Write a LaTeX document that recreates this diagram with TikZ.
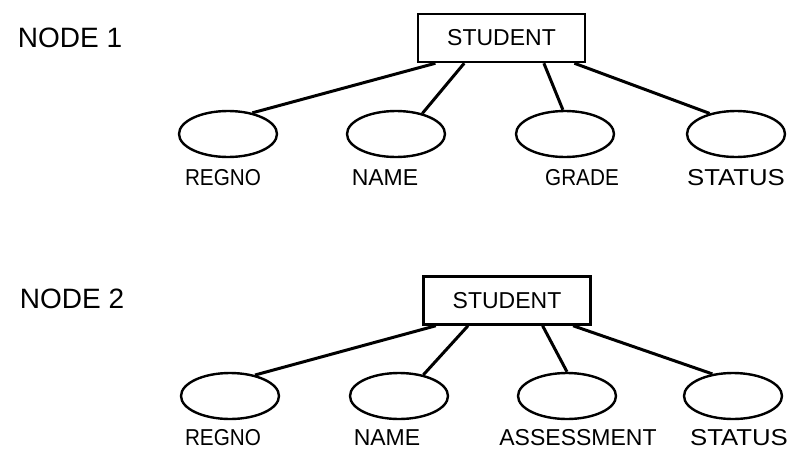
\documentclass[tikz,border=0pt]{standalone}
\usepackage{fontspec}
\setmainfont{Liberation Sans}
\usetikzlibrary{calc,shapes.geometric}

\tikzset{
  entity/.style={draw, line width=2.5pt, rectangle, minimum width=167pt, minimum height=48pt, inner sep=0pt,
                 font=\fontsize{23}{25}\selectfont},
  attr/.style={draw, line width=2.4pt, ellipse, minimum width=98pt, minimum height=46pt, inner sep=0pt},
  attrlabel/.style={font=\fontsize{23}{25}\selectfont, inner sep=0pt},
  title/.style={font=\fontsize{28}{30}\selectfont, inner sep=0pt},
  link/.style={line width=3pt}
}

\begin{document}
\begin{tikzpicture}[x=1pt, y=-1pt]
  \path[use as bounding box] (0,0) rectangle (790,450);

  % ---------- first record ----------
  \node[title] (t1) at (70,38) {NODE 1};
  \node[entity] (s1) at (501.5,38) {STUDENT};

  \node[attr] (a1) at (228,134) {};
  \node[attr] (a2) at (396,134) {};
  \node[attr] (a3) at (565,134) {};
  \node[attr] (a4) at (736,134) {};

  \node[attrlabel, xscale=0.9] (l1) at (223,178) {REGNO};
  \node[attrlabel] (l2) at (385,178) {NAME};
  \node[attrlabel, xscale=0.9] (l3) at (582,178) {GRADE};
  \node[attrlabel, xscale=1.12] (l4) at (736,178) {STATUS};

  \draw[link] ($(s1.south west)!0.11!(s1.south east)$) -- (a1.41);
  \draw[link] ($(s1.south west)!0.28!(s1.south east)$) -- (a2.38);
  \draw[link] ($(s1.south west)!0.75!(s1.south east)$) -- (a3.95);
  \draw[link] ($(s1.south west)!0.93!(s1.south east)$) -- (a4.142);

  % ---------- second record ----------
  \node[title] (t2) at (72,299) {NODE 2};
  \node[entity] (s2) at (507,300.5) {STUDENT};

  \node[attr] (b1) at (230,396) {};
  \node[attr] (b2) at (399,396) {};
  \node[attr] (b3) at (567,396) {};
  \node[attr] (b4) at (733,396) {};

  \node[attrlabel, xscale=0.9] (m1) at (223,438) {REGNO};
  \node[attrlabel] (m2) at (387,438) {NAME};
  \node[attrlabel] (m3) at (578,438) {ASSESSMENT};
  \node[attrlabel, xscale=1.12] (m4) at (739,438) {STATUS};

  \draw[link] ($(s2.south west)!0.08!(s2.south east)$) -- (b1.40);
  \draw[link] ($(s2.south west)!0.27!(s2.south east)$) -- (b2.41);
  \draw[link] ($(s2.south west)!0.71!(s2.south east)$) -- (b3.90);
  \draw[link] ($(s2.south west)!0.89!(s2.south east)$) -- (b4.133);
\end{tikzpicture}
\end{document}
